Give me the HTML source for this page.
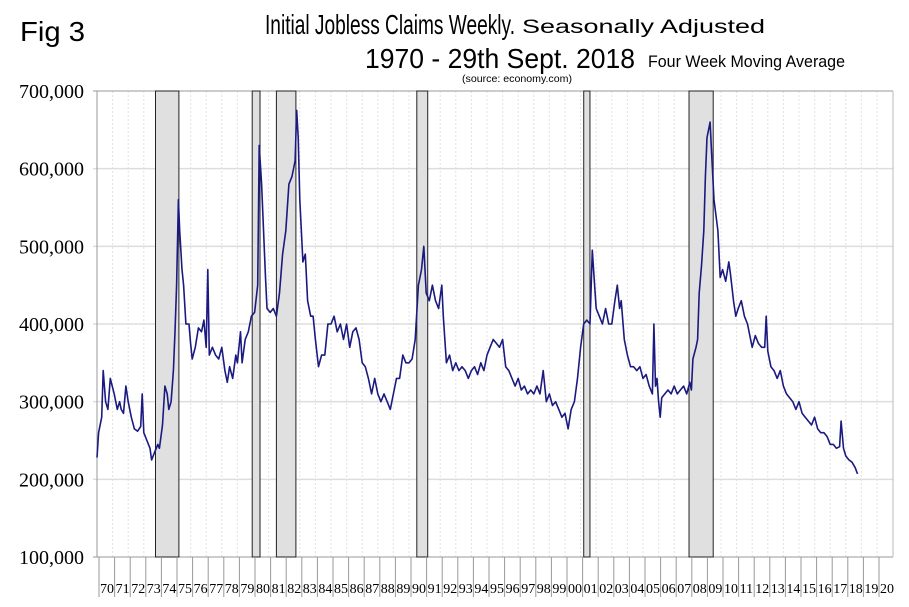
<!DOCTYPE html>
<html><head><meta charset="utf-8"><style>body{margin:0;background:#fff}svg{display:block}</style></head>
<body>
<svg id="chart" width="909" height="607" xmlns="http://www.w3.org/2000/svg">
<g font-family="Liberation Sans, sans-serif" fill="#000">
<text x="20" y="41" font-size="28" textLength="65" lengthAdjust="spacingAndGlyphs">Fig 3</text>
<text x="265" y="34" font-size="28" textLength="250" lengthAdjust="spacingAndGlyphs">Initial Jobless Claims Weekly.</text>
<text x="522" y="33" font-size="19" textLength="243" lengthAdjust="spacingAndGlyphs">Seasonally Adjusted</text>
<text x="365" y="68" font-size="28" textLength="270" lengthAdjust="spacingAndGlyphs">1970 - 29th Sept. 2018</text>
<text x="648" y="67" font-size="17" textLength="197" lengthAdjust="spacingAndGlyphs">Four Week Moving Average</text>
<text x="462" y="82" font-size="10" textLength="110" lengthAdjust="spacingAndGlyphs">(source: economy.com)</text>
</g>
<g id="grid"></g><g id="rec"></g><g id="axes"></g><g id="series"></g>
</svg>
<script>
const yTicks=[100000,200000,300000,400000,500000,600000,700000];
const yTickLabels=["100,000","200,000","300,000","400,000","500,000","600,000","700,000"];
const xYears=[];for(let y=1970;y<=2020;y++)xYears.push(y);
const recStart=[1973.75,1979.95,1981.5,1990.5,2001.2,2007.95];
const recEnd=[1975.25,1980.45,1982.75,1991.2,2001.6,2009.5];
const dates=[1970.0,1970.1,1970.3,1970.4,1970.55,1970.7,1970.85,1971.1,1971.3,1971.45,1971.55,1971.7,1971.85,1972.0,1972.2,1972.4,1972.6,1972.8,1972.9,1973.0,1973.2,1973.4,1973.5,1973.7,1973.9,1974.0,1974.2,1974.35,1974.5,1974.6,1974.75,1974.9,1975.0,1975.1,1975.22,1975.3,1975.45,1975.55,1975.7,1975.9,1976.0,1976.1,1976.3,1976.5,1976.7,1976.85,1977.0,1977.1,1977.2,1977.4,1977.6,1977.8,1978.0,1978.2,1978.35,1978.5,1978.7,1978.9,1979.0,1979.2,1979.3,1979.5,1979.7,1979.9,1980.1,1980.3,1980.4,1980.55,1980.8,1980.9,1981.1,1981.3,1981.5,1981.7,1981.9,1982.1,1982.3,1982.5,1982.7,1982.8,1982.9,1983.0,1983.2,1983.35,1983.5,1983.7,1983.85,1984.0,1984.2,1984.4,1984.6,1984.8,1985.0,1985.2,1985.4,1985.6,1985.8,1986.0,1986.2,1986.4,1986.6,1986.8,1987.0,1987.2,1987.4,1987.6,1987.8,1988.0,1988.2,1988.4,1988.6,1988.8,1989.0,1989.2,1989.4,1989.6,1989.8,1990.0,1990.2,1990.4,1990.6,1990.8,1990.95,1991.1,1991.3,1991.5,1991.7,1991.9,1992.1,1992.2,1992.4,1992.6,1992.8,1993.0,1993.2,1993.4,1993.6,1993.8,1994.0,1994.2,1994.4,1994.6,1994.8,1995.0,1995.2,1995.4,1995.6,1995.8,1996.0,1996.2,1996.4,1996.6,1996.8,1997.0,1997.2,1997.4,1997.6,1997.8,1998.0,1998.2,1998.4,1998.6,1998.8,1999.0,1999.2,1999.4,1999.6,1999.8,2000.0,2000.2,2000.4,2000.6,2000.8,2001.0,2001.2,2001.4,2001.6,2001.75,2001.9,2002.0,2002.2,2002.4,2002.6,2002.8,2003.0,2003.2,2003.35,2003.5,2003.6,2003.8,2004.0,2004.2,2004.4,2004.6,2004.8,2005.0,2005.2,2005.4,2005.6,2005.7,2005.8,2005.9,2006.0,2006.1,2006.2,2006.4,2006.6,2006.8,2007.0,2007.2,2007.4,2007.6,2007.8,2008.0,2008.1,2008.2,2008.4,2008.5,2008.6,2008.75,2008.9,2009.0,2009.1,2009.3,2009.4,2009.55,2009.8,2009.95,2010.1,2010.3,2010.5,2010.6,2010.8,2010.95,2011.1,2011.3,2011.5,2011.7,2011.9,2012.0,2012.2,2012.4,2012.6,2012.8,2012.9,2013.0,2013.2,2013.4,2013.6,2013.8,2014.0,2014.2,2014.4,2014.6,2014.8,2015.0,2015.2,2015.4,2015.6,2015.8,2016.0,2016.2,2016.4,2016.6,2016.8,2017.0,2017.2,2017.4,2017.6,2017.7,2017.85,2018.0,2018.2,2018.4,2018.6,2018.75];
const claimsK=[228,260,280,340,300,290,330,310,290,300,290,285,320,300,280,265,262,268,310,260,250,240,225,235,245,240,270,320,310,290,300,340,390,450,560,520,470,450,400,400,375,355,370,395,390,405,370,470,360,370,360,355,370,340,325,345,330,360,350,390,350,380,390,410,415,450,630,580,460,420,415,420,410,440,490,520,580,590,610,675,640,560,480,490,430,410,410,380,345,360,360,400,400,410,390,400,380,400,370,390,395,380,350,345,330,310,330,310,300,310,300,290,310,330,330,360,350,350,355,380,450,470,500,440,430,450,430,420,450,410,350,360,340,350,340,345,340,330,340,345,335,350,340,360,370,380,375,370,380,345,340,330,320,330,315,320,310,315,310,320,310,340,300,310,295,300,290,280,285,265,290,300,330,370,400,405,400,495,450,420,410,400,420,400,400,430,450,420,430,380,360,345,345,340,345,330,335,320,310,400,320,330,300,280,305,310,315,310,320,310,315,320,310,325,315,355,370,380,440,475,520,590,640,660,620,560,520,460,470,455,480,465,430,410,420,430,410,400,380,370,385,375,370,370,410,365,345,340,330,340,320,310,305,300,290,300,285,280,275,270,280,265,260,260,255,245,245,240,242,275,240,230,225,222,215,207];
const NS='http://www.w3.org/2000/svg';
const X0=97,YW=15.6,YT=91,YB=557;
const xs=t=>X0+(t-1970)*YW;
const ys=v=>YB-(v-100000)/600000*(YB-YT);
function mk(tag,a,p){const e=document.createElementNS(NS,tag);for(const k in a)e.setAttribute(k,a[k]);p.appendChild(e);return e;}
const grid=document.getElementById('grid'),rec=document.getElementById('rec'),axes=document.getElementById('axes'),ser=document.getElementById('series');
xYears.forEach(y=>{if(y===1970)return;const l=mk('line',{x1:xs(y),x2:xs(y),y1:YT,y2:YB,stroke:'#e2e2e2','stroke-dasharray':'2,2'},grid);

});
yTicks.forEach((v,i)=>{const l=mk('line',{x1:93,x2:893,y1:ys(v),y2:ys(v),stroke:i===0||i===6?'#999':'#ddd','stroke-width':i===0||i===6?1:1.5},grid);


const t=mk('text',{x:84,y:ys(v)+7,'text-anchor':'end','font-family':'Liberation Serif, serif','font-size':20},axes);t.textContent=yTickLabels[i];

});
mk('line',{x1:97,x2:97,y1:YT,y2:YB,stroke:'#999'},axes);
mk('line',{x1:893,x2:893,y1:YT,y2:YB,stroke:'#bbb'},axes);
recStart.forEach((s,i)=>{const r=mk('rect',{x:xs(s),y:YT,width:xs(recEnd[i])-xs(s),height:YB-YT,fill:'#e0e0e0',stroke:'#222','stroke-width':1},rec);

});
xYears.forEach(y=>{const l=mk('line',{x1:xs(y)+2,x2:xs(y)+2,y1:YB,y2:597,stroke:'#999'},axes);


const t=mk('text',{x:xs(y)+3,y:593,'font-family':'Liberation Serif, serif','font-size':14},axes);t.textContent=String(y).slice(2);

});
const p=mk('polyline',{points:dates.map((d,i)=>xs(d).toFixed(1)+','+ys(claimsK[i]*1000).toFixed(1)).join(' '),fill:'none',stroke:'#1a1a80','stroke-width':1.6,'stroke-linejoin':'round'},ser);


</script>
</body></html>
